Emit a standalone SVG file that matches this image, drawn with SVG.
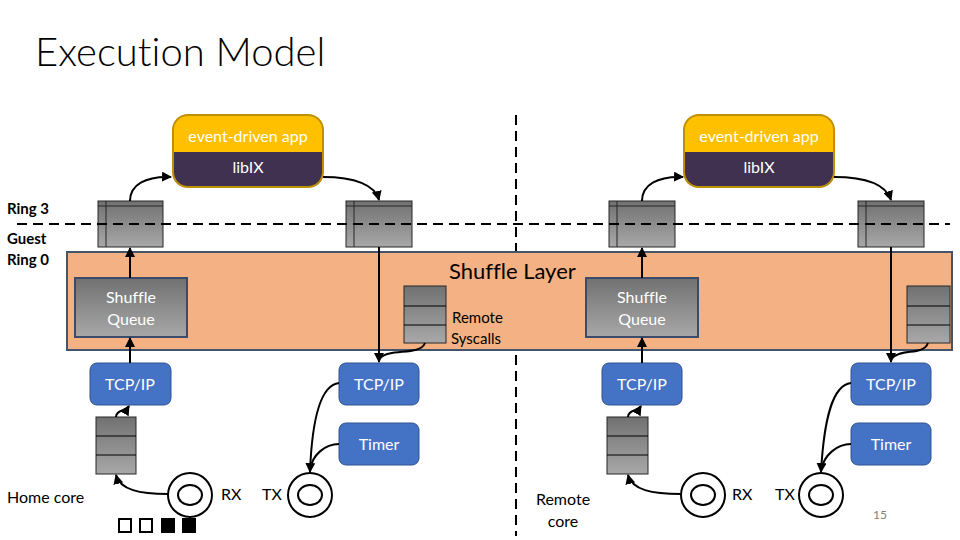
<svg xmlns="http://www.w3.org/2000/svg" width="960" height="540" viewBox="0 0 960 540">
<defs>
<linearGradient id="gray" x1="0" y1="0" x2="0" y2="1">
<stop offset="0" stop-color="#717171"/>
<stop offset="1" stop-color="#a8a8a8"/>
</linearGradient>
<marker id="arr" viewBox="0 0 10 10" refX="9" refY="5" markerWidth="5" markerHeight="5" orient="auto-start-reverse">
<path d="M0,0 L10,5 L0,10 z" fill="#000"/>
</marker>
</defs>
<style>
text{font-family:Lato,"Liberation Sans",sans-serif;font-variant-ligatures:none}
.title{font-size:40px;font-weight:300;fill:#000}
.lbl{font-size:16px;fill:#000}
.bold{font-size:15px;font-weight:bold;fill:#000}
.wt{font-size:16px;fill:#fff;text-anchor:middle}
.q{fill:url(#gray);stroke:#262626;stroke-width:1}
.tcp{fill:#4472C4;stroke:#2F528F;stroke-width:1}
.sq{fill:url(#gray);stroke:#3b4c6b;stroke-width:2}
.ring{fill:none;stroke:#000;stroke-width:2}
.c{fill:none;stroke:#000;stroke-width:2}
.ca{fill:none;stroke:#000;stroke-width:2;marker-end:url(#arr)}
.dash{fill:none;stroke:#000;stroke-width:2;stroke-dasharray:10 6}
</style>
<rect width="960" height="540" fill="#fff"/>
<text class="title" x="35" y="66">Execution Model</text>

<line class="dash" x1="516" y1="115" x2="516" y2="536"/>

<g id="shuffle-layer">
<rect x="67" y="252" width="885" height="98" fill="#F4B183" stroke="#44546A" stroke-width="2"/>
<text x="449" y="279" style="font-size:22px;fill:#000">Shuffle Layer</text>
</g>

<g id="labels">
<text class="bold" x="7" y="214">Ring 3</text>
<text class="bold" x="7" y="244">Guest</text>
<text class="bold" x="7" y="265">Ring 0</text>
<text class="lbl" x="7" y="503">Home core</text>
<text class="lbl" x="563" y="505" text-anchor="middle">Remote</text>
<text class="lbl" x="563" y="527" text-anchor="middle">core</text>
<text x="873" y="519" style="font-size:12px;fill:#7f7f7f">15</text>
</g>

<g id="app-left">
<path d="M173,152 V130 Q173,115 188,115 H308 Q323,115 323,130 V152 Z" fill="#FFC000"/>
<path d="M173,152 H323 V172 Q323,187 308,187 H188 Q173,187 173,172 Z" fill="#403151"/>
<rect x="173" y="115" width="150" height="72" rx="15" fill="none" stroke="#BF9000" stroke-width="2"/>
<text class="wt" x="248" y="142">event-driven app</text>
<text class="wt" x="248" y="173">libIX</text>
</g>
<g id="app-right">
<path d="M684,152 V130 Q684,115 699,115 H819 Q834,115 834,130 V152 Z" fill="#FFC000"/>
<path d="M684,152 H834 V172 Q834,187 819,187 H699 Q684,187 684,172 Z" fill="#403151"/>
<rect x="684" y="115" width="150" height="72" rx="15" fill="none" stroke="#BF9000" stroke-width="2"/>
<text class="wt" x="759" y="142">event-driven app</text>
<text class="wt" x="759" y="173">libIX</text>
</g>

<g id="ring-q1"><rect class="q" x="98" y="201" width="65" height="46"/><path d="M106,201 V247 M98,206 H163" stroke="#262626" fill="none"/></g>
<g id="ring-q2"><rect class="q" x="346" y="201" width="66" height="46"/><path d="M354,201 V247 M346,206 H412" stroke="#262626" fill="none"/></g>
<g id="ring-q3"><rect class="q" x="609" y="201" width="66" height="46"/><path d="M617,201 V247 M609,206 H675" stroke="#262626" fill="none"/></g>
<g id="ring-q4"><rect class="q" x="858" y="201" width="66" height="46"/><path d="M866,201 V247 M858,206 H924" stroke="#262626" fill="none"/></g>

<line class="dash" x1="17" y1="224" x2="950" y2="224"/>

<g id="shuffle-queue-left">
<rect class="sq" x="75" y="278" width="112" height="59"/>
<text class="wt" x="131" y="303">Shuffle</text>
<text class="wt" x="131" y="325">Queue</text>
</g>
<g id="shuffle-queue-right">
<rect class="sq" x="586" y="278" width="112" height="59"/>
<text class="wt" x="642" y="303">Shuffle</text>
<text class="wt" x="642" y="325">Queue</text>
</g>

<g id="remote-syscalls-left">
<rect class="q" x="404" y="286" width="42" height="57"/>
<path d="M404,306 H446 M404,325 H446" stroke="#000" fill="none"/>
<text class="lbl" x="452" y="323" style="font-size:15px">Remote</text>
<text class="lbl" x="451" y="344" style="font-size:15px">Syscalls</text>
</g>
<g id="remote-syscalls-right">
<rect class="q" x="907" y="286" width="43" height="57"/>
<path d="M907,306 H950 M907,325 H950" stroke="#000" fill="none"/>
</g>

<g id="tcp1"><rect class="tcp" x="90" y="363" width="81" height="42" rx="7"/><text class="wt" x="130" y="390">TCP/IP</text></g>
<g id="tcp2"><rect class="tcp" x="339" y="363" width="80" height="42" rx="7"/><text class="wt" x="379" y="390">TCP/IP</text></g>
<g id="timer1"><rect class="tcp" x="339" y="423" width="80" height="42" rx="7"/><text class="wt" x="379" y="450">Timer</text></g>
<g id="tcp3"><rect class="tcp" x="602" y="363" width="80" height="42" rx="7"/><text class="wt" x="642" y="390">TCP/IP</text></g>
<g id="tcp4"><rect class="tcp" x="851" y="363" width="80" height="42" rx="7"/><text class="wt" x="891" y="390">TCP/IP</text></g>
<g id="timer2"><rect class="tcp" x="851" y="423" width="80" height="42" rx="7"/><text class="wt" x="891" y="450">Timer</text></g>

<g id="rx-queue-left"><rect class="q" x="96" y="417" width="40" height="57"/><path d="M96,436 H136 M96,455 H136" stroke="#000" fill="none"/></g>
<g id="rx-queue-right"><rect class="q" x="607" y="417" width="41" height="57"/><path d="M607,436 H648 M607,455 H648" stroke="#000" fill="none"/></g>

<g id="rx-left"><ellipse class="ring" cx="190" cy="495" rx="22" ry="22"/><ellipse class="ring" cx="190" cy="495" rx="12" ry="10"/><text class="lbl" x="221" y="500">RX</text></g>
<g id="tx-left"><ellipse class="ring" cx="310" cy="495" rx="22" ry="22"/><ellipse class="ring" cx="310" cy="495" rx="12" ry="10"/><text class="lbl" x="262" y="500">TX</text></g>
<g id="rx-right"><ellipse class="ring" cx="703" cy="495" rx="22" ry="22"/><ellipse class="ring" cx="703" cy="495" rx="12" ry="10"/><text class="lbl" x="732" y="500">RX</text></g>
<g id="tx-right"><ellipse class="ring" cx="821" cy="495" rx="22" ry="22"/><ellipse class="ring" cx="821" cy="495" rx="12" ry="10"/><text class="lbl" x="775" y="500">TX</text></g>

<g id="squares">
<rect x="119" y="519" width="12" height="13" fill="none" stroke="#000" stroke-width="2"/>
<rect x="140" y="519" width="12" height="13" fill="none" stroke="#000" stroke-width="2"/>
<rect x="161" y="518" width="14" height="15" fill="#000"/>
<rect x="182" y="518" width="14" height="15" fill="#000"/>
</g>

<g id="connectors">
<path class="ca" d="M130,201 C130,185 145,176 171,177"/>
<path class="ca" d="M323,177 C355,177 375,185 379,200"/>
<path class="ca" d="M130,278 V248"/>
<path class="ca" d="M130,363 V338"/>
<path class="ca" d="M116,417 C116,410 126,411 129,406"/>
<path class="ca" d="M168,494 C140,494 120,490 116,475"/>
<path class="ca" d="M379,247 V362"/>
<path class="c" d="M425,343 C420,356 390,348 380,358"/>
<path class="ca" d="M339,383 C320,385 312,420 310,472"/>
<path class="c" d="M339,444 C325,444 312,455 310,470"/>

<path class="ca" d="M642,201 C642,185 657,176 683,177"/>
<path class="ca" d="M834,177 C866,177 886,185 891,200"/>
<path class="ca" d="M642,278 V248"/>
<path class="ca" d="M642,363 V338"/>
<path class="ca" d="M628,417 C628,410 638,411 641,406"/>
<path class="ca" d="M681,494 C652,494 632,490 628,475"/>
<path class="ca" d="M891,247 V362"/>
<path class="c" d="M928,343 C923,356 902,348 892,358"/>
<path class="ca" d="M851,383 C832,385 824,420 821,472"/>
<path class="c" d="M851,444 C837,444 824,455 821,470"/>
</g>
</svg>
